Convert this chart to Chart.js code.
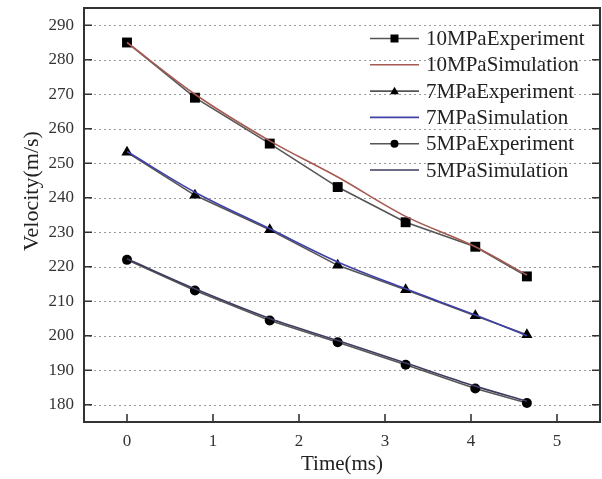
<!DOCTYPE html>
<html>
<head>
<meta charset="utf-8">
<script src="https://cdn.jsdelivr.net/npm/chart.js@4.4.0/dist/chart.umd.min.js"></script>
<style>
  body { margin: 0; background: #fff; }
  canvas { display: block; }
</style>
</head>
<body>
<canvas id="myChart" width="602" height="479"></canvas>
<script>
// time samples (ms)
const timeMs = [0, 0.79, 1.66, 2.45, 3.24, 4.05, 4.65];

// velocities (m/s)
const exp10 = [285.0, 269.0, 255.7, 243.1, 232.9, 225.8, 217.2];
const sim10 = [285.0, 270.0, 256.5, 246.0, 234.6, 225.8, 217.6];
const exp7  = [253.2, 240.7, 230.7, 220.4, 213.3, 205.8, 200.3];
const sim7  = [253.4, 241.6, 231.0, 221.4, 213.6, 206.0, 200.0];
const exp5  = [222.0, 213.1, 204.4, 198.1, 191.6, 184.7, 180.5];
const sim5  = [222.3, 213.6, 205.0, 198.6, 192.1, 185.4, 181.0];

const seriesLabels = ['10MPaExperiment', '10MPaSimulation', '7MPaExperiment',
                      '7MPaSimulation', '5MPaExperiment', '5MPaSimulation'];
const xTicks = [0, 1, 2, 3, 4, 5];
const yTicks = [180, 190, 200, 210, 220, 230, 240, 250, 260, 270, 280, 290];

const serif = "'Liberation Serif', 'Times New Roman', serif";
const expColor = '#555555';
const simColors = ['#a65a52', '#4040a8', '#3c3c60'];
const markers = ['rect', 'triangle', 'circle'];
const markerSize = [7, 6.5, 5];

function points(values) {
    return timeMs.map((t, i) => ({ x: t, y: values[i] }));
}

let expSets = [exp10, exp7, exp5];
let simSets = [sim10, sim7, sim5];
let datasets = [];

for (let i = 0; i < 3; i++) {
    datasets.push({
        label: seriesLabels[i * 2],
        data: points(expSets[i]),
        borderColor: expColor,
        borderWidth: 1.6,
        pointStyle: markers[i],
        pointRadius: markerSize[i],
        pointBackgroundColor: '#000',
        pointBorderColor: '#000',
        pointBorderWidth: 0,
        order: 1
    });
    datasets.push({
        label: seriesLabels[i * 2 + 1],
        data: points(simSets[i]),
        borderColor: simColors[i],
        borderWidth: 1.6,
        pointRadius: 0,
        cubicInterpolationMode: 'monotone',
        order: 0
    });
}

function drawMarker(ctx, style, x, y, r) {
    ctx.beginPath();
    if (style === 'rect') {
        ctx.rect(x - r, y - r, 2 * r, 2 * r);
    } else if (style === 'triangle') {
        ctx.moveTo(x, y - r * 1.1);
        ctx.lineTo(x + r * 1.1, y + r * 0.8);
        ctx.lineTo(x - r * 1.1, y + r * 0.8);
        ctx.closePath();
    } else {
        ctx.arc(x, y, r, 0, Math.PI * 2);
    }
    ctx.fill();
}

const framePlugin = {
    id: 'frame',
    beforeDatasetsDraw(chart) {
        const { ctx, chartArea: a, scales: { y } } = chart;
        ctx.save();
        ctx.strokeStyle = '#9a9a9a';
        ctx.lineWidth = 1.2;
        ctx.setLineDash([2, 3]);
        yTicks.forEach(v => {
            let py = Math.round(y.getPixelForValue(v)) + 0.5;
            ctx.beginPath();
            ctx.moveTo(a.left, py);
            ctx.lineTo(a.right, py);
            ctx.stroke();
        });
        ctx.restore();
    },
    afterDraw(chart) {
        const { ctx, chartArea: a, scales: { x, y } } = chart;
        ctx.save();

        // inner tick marks
        ctx.strokeStyle = '#333';
        ctx.lineWidth = 1.6;
        yTicks.forEach(v => {
            let py = y.getPixelForValue(v);
            ctx.beginPath();
            ctx.moveTo(a.left, py); ctx.lineTo(a.left + 8, py);
            ctx.moveTo(a.right - 8, py); ctx.lineTo(a.right, py);
            ctx.stroke();
        });
        xTicks.forEach(v => {
            let px = x.getPixelForValue(v);
            ctx.beginPath();
            ctx.moveTo(px, a.bottom); ctx.lineTo(px, a.bottom - 8);
            ctx.stroke();
        });

        // frame
        ctx.lineWidth = 2;
        ctx.strokeRect(a.left, a.top, a.right - a.left, a.bottom - a.top);

        // y axis title
        ctx.fillStyle = '#222';
        ctx.font = '22px ' + serif;
        ctx.textAlign = 'center';
        ctx.textBaseline = 'middle';
        ctx.translate(32, 191);
        ctx.rotate(-Math.PI / 2);
        ctx.fillText('Velocity(m/s)', 0, 0);
        ctx.setTransform(1, 0, 0, 1, 0, 0);

        // legend
        ctx.font = '21px ' + serif;
        ctx.textAlign = 'left';
        for (let i = 0; i < 6; i++) {
            let ly = 38.5 + i * 26.3;
            let k = Math.floor(i / 2);
            let isExp = i % 2 === 0;
            ctx.strokeStyle = isExp ? expColor : simColors[k];
            ctx.lineWidth = 1.6;
            ctx.beginPath();
            ctx.moveTo(370, ly);
            ctx.lineTo(419, ly);
            ctx.stroke();
            if (isExp) {
                ctx.fillStyle = '#000';
                drawMarker(ctx, markers[k], 394.5, ly, 4);
            }
            ctx.fillStyle = '#222';
            ctx.fillText(seriesLabels[i], 426, ly + 1);
        }
        ctx.restore();
    }
};

const chart = new Chart(document.getElementById('myChart').getContext('2d'), {
    type: 'line',
    data: { datasets: datasets },
    options: {
        responsive: false,
        animation: false,
        layout: { autoPadding: false, padding: { top: 8, right: 2, left: 0, bottom: 0 } },
        plugins: { legend: { display: false }, tooltip: { enabled: false } },
        scales: {
            x: {
                type: 'linear',
                min: -0.5,
                max: 5.5,
                afterBuildTicks: s => { s.ticks = xTicks.map(v => ({ value: v })); },
                afterFit: s => { s.height = 57; s.paddingLeft = 0; s.paddingRight = 0; },
                grid: { display: false, drawTicks: false },
                border: { display: false },
                ticks: { color: '#333', padding: 9, font: { family: serif, size: 17 } },
                title: {
                    display: true,
                    text: 'Time(ms)',
                    color: '#222',
                    font: { family: serif, size: 21 },
                    padding: { top: 0, bottom: 2 }
                }
            },
            y: {
                min: 175,
                max: 295,
                afterBuildTicks: s => { s.ticks = yTicks.map(v => ({ value: v })); },
                afterFit: s => { s.width = 84; s.paddingTop = 0; s.paddingBottom = 0; },
                grid: { display: false, drawTicks: false },
                border: { display: false },
                ticks: { color: '#333', padding: 10, font: { family: serif, size: 17 } }
            }
        }
    },
    plugins: [framePlugin]
});
</script>
</body>
</html>
